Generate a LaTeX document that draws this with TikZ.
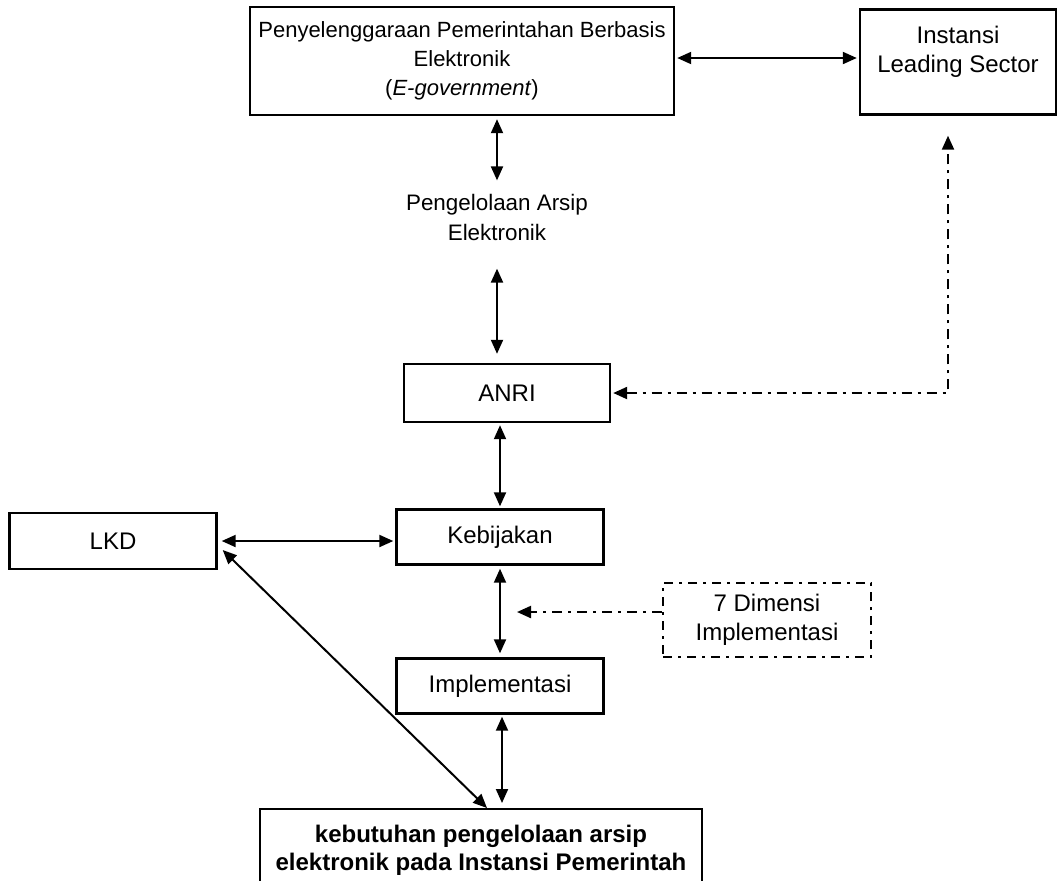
\documentclass[tikz,border=0pt]{standalone}
\usepackage{fontspec}
\setmainfont{Liberation Sans}
\usetikzlibrary{arrows.meta}

\begin{document}
\begin{tikzpicture}[x=0.5pt,y=-0.5pt,
  font=\fontsize{12}{14.5}\selectfont,
  box/.style={draw,line width=1.2pt,inner sep=0pt,align=center},
  dbox/.style={box,line width=1.1pt,dash pattern=on 4.5pt off 3pt on 1.5pt off 3pt},
  both/.style={line width=1pt,{Triangle[length=7pt,width=6pt]}-{Triangle[length=7pt,width=6pt]}},
  dd/.style={line width=1.1pt,dash pattern=on 5pt off 3pt on 1.5pt off 3pt}]
  \clip (0,0) rectangle (1064,880);
  % boxes
  \node[box,minimum width=212pt,minimum height=54pt,font=\fontsize{11}{14.5}\selectfont] (egov) at (462,61)
    {Penyelenggaraan Pemerintahan Berbasis\\Elektronik\\(\textit{E-government})};
  \node[box,minimum width=98pt,minimum height=52.5pt] (instansi) at (958,62) {};
  \node[align=center] (instansitxt) at (958,52) {Instansi\\Leading Sector};
  \node[align=center,inner sep=0pt,font=\fontsize{11.2}{15}\selectfont] (pae) at (497,217) {Pengelolaan Arsip\\Elektronik};
  \node[box,minimum width=103pt,minimum height=29pt] (anri) at (507,393) {ANRI};
  \node[box,minimum width=103.5pt,minimum height=27.5pt] (kebijakan) at (500,537) {Kebijakan};
  \node[box,minimum width=103.5pt,minimum height=28pt] (lkd) at (113,541) {LKD};
  \node[dbox,minimum width=104pt,minimum height=37pt] (dimensi) at (767,620) {7 Dimensi\\Implementasi};
  \node[box,minimum width=103.5pt,minimum height=27.5pt] (impl) at (500,686) {Implementasi};
  \node[box,minimum width=221pt,inner ysep=8pt,anchor=north,font=\fontsize{12}{13.8}\selectfont\bfseries] (kebutuhan) at (481,808)
    {kebutuhan pengelolaan arsip\\elektronik pada Instansi Pemerintah};
  % arrows
  \draw[both,shorten <=1pt,shorten >=1pt] (egov.east |- 0,58) -- (instansi.west |- 0,58);
  \draw[both,shorten <=1.5pt,shorten >=6.5pt] (egov.south -| pae.north) -- (pae.north);
  \draw[both,shorten <=14pt,shorten >=4.5pt] (pae.south) -- (pae.south |- anri.north);
  \draw[both,shorten <=1pt,shorten >=1pt] (anri.south -| kebijakan.north) -- (kebijakan.north);
  \draw[both,shorten <=2pt,shorten >=1pt] (lkd.east) -- (lkd.east -| kebijakan.west);
  \draw[both,shorten <=1.5pt,shorten >=2pt] (kebijakan.south) -- (impl.north);
  \draw[both,shorten <=1pt,shorten >=2.5pt] ([xshift=1pt]impl.south) -- ([xshift=1pt]impl.south |- kebutuhan.north);
  \draw[both] ([xshift=2.5pt,yshift=-4.5pt]lkd.east) -- ([xshift=3pt]kebutuhan.north);
  \coordinate (bend) at (948,393);
  \draw[dd,{Triangle[length=7pt,width=6pt]}-{Triangle[length=7pt,width=6pt]},shorten <=1pt,shorten >=10pt]
    (anri.east) -- (bend) -- (bend |- instansi.south);
  \coordinate (aim) at (517,612);
  \draw[dd,-{Triangle[length=7pt,width=6pt]}] (dimensi.west |- aim) -- (aim);
\end{tikzpicture}
\end{document}
